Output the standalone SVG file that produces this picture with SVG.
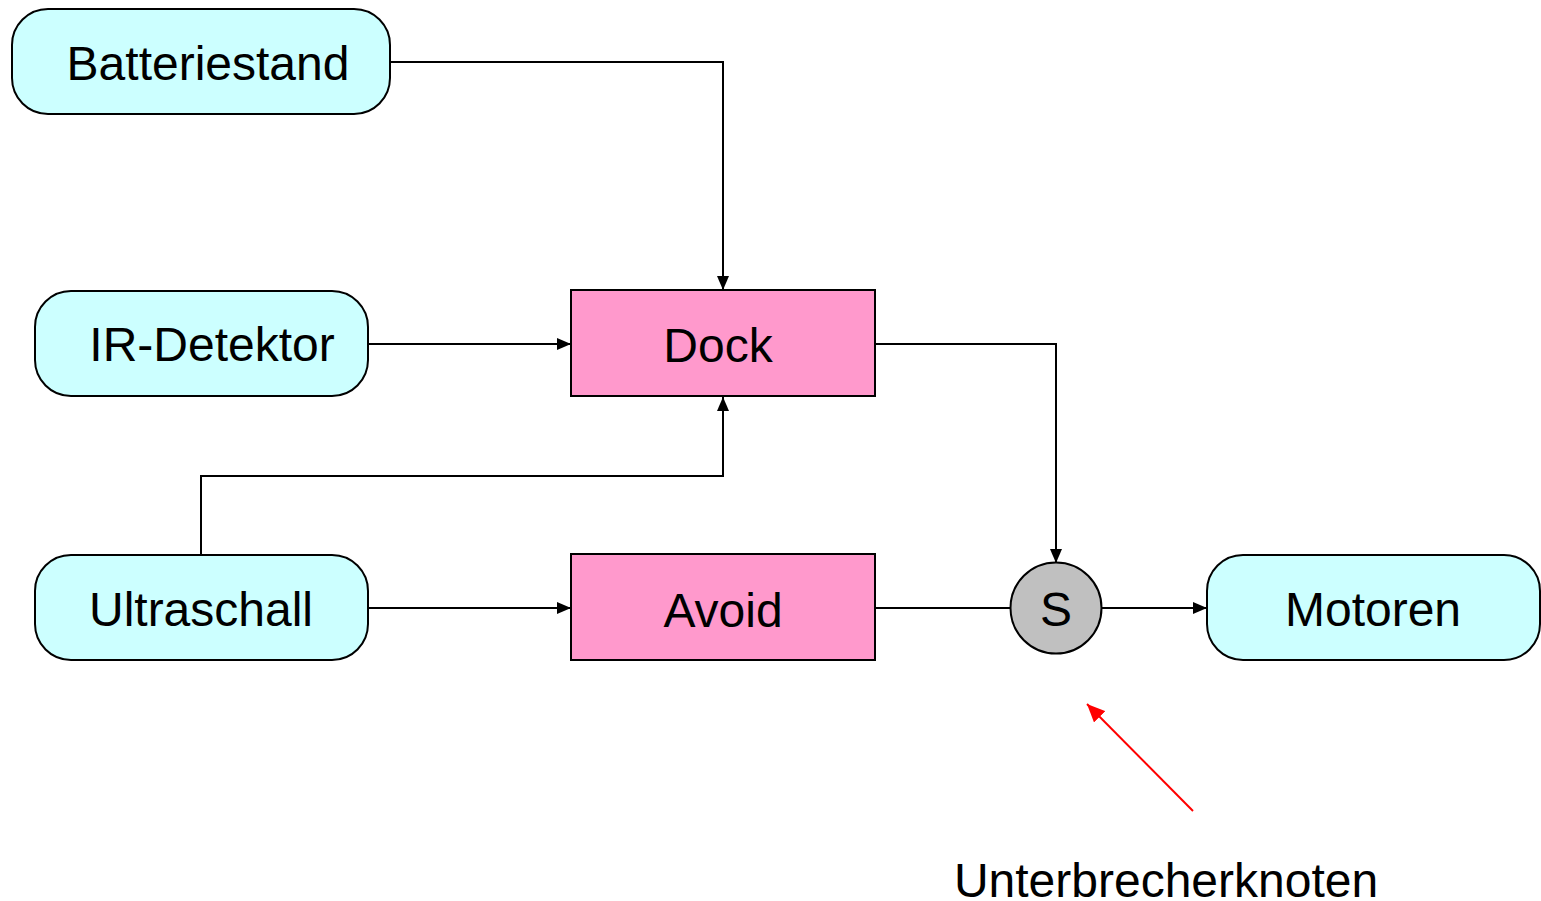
<svg xmlns="http://www.w3.org/2000/svg" width="1541" height="901" viewBox="0 0 1541 901">
<style>
.io{fill:#CCFFFF;stroke:#000;stroke-width:2}
.beh{fill:#FF99CC;stroke:#000;stroke-width:2}
.sw{fill:#C0C0C0;stroke:#000;stroke-width:2}
text{font-family:"Liberation Sans",Arial,sans-serif;font-size:48px;fill:#000}
.c{text-anchor:middle}
.ln{fill:none;stroke:#000;stroke-width:2}
.red{fill:none;stroke:#FF0000;stroke-width:2}
</style>
<defs>
<marker id="ah" markerWidth="14" markerHeight="12" refX="14" refY="6" orient="auto" markerUnits="userSpaceOnUse">
<path d="M0,0 L14,6 L0,12 Z" fill="#000"/>
</marker>
<marker id="rh" markerWidth="18" markerHeight="16" refX="18" refY="8" orient="auto" markerUnits="userSpaceOnUse">
<path d="M0,0 L18,8 L0,16 Z" fill="#FF0000"/>
</marker>
</defs>
<rect width="1541" height="901" fill="#fff"/>
<g id="connectors">
<path class="ln" d="M390,62 H723 V290" marker-end="url(#ah)"/>
<path class="ln" d="M368,344 H571" marker-end="url(#ah)"/>
<path class="ln" d="M201,555 V476 H723 V397" marker-end="url(#ah)"/>
<path class="ln" d="M368,608 H571" marker-end="url(#ah)"/>
<path class="ln" d="M875,344 H1056 V563" marker-end="url(#ah)"/>
<path class="ln" d="M875,608 H1010"/>
<path class="ln" d="M1101,608 H1207" marker-end="url(#ah)"/>
<path class="red" d="M1193,811 L1087,704" marker-end="url(#rh)"/>
</g>
<g id="batteriestand">
<rect class="io" x="12" y="9" width="378" height="105" rx="36" ry="36"/>
<text x="208" y="80" class="c">Batteriestand</text>
</g>
<g id="ir-detektor">
<rect class="io" x="35" y="291" width="333" height="105" rx="36" ry="36"/>
<text x="212" y="361" class="c">IR-Detektor</text>
</g>
<g id="ultraschall">
<rect class="io" x="35" y="555" width="333" height="105" rx="36" ry="36"/>
<text x="201" y="626" class="c">Ultraschall</text>
</g>
<g id="dock">
<rect class="beh" x="571" y="290" width="304" height="106"/>
<text x="718" y="362" class="c">Dock</text>
</g>
<g id="avoid">
<rect class="beh" x="571" y="554" width="304" height="106"/>
<text x="723" y="627" class="c">Avoid</text>
</g>
<g id="s">
<circle class="sw" cx="1056" cy="608" r="45.5"/>
<text x="1056" y="626" class="c">S</text>
</g>
<g id="motoren">
<rect class="io" x="1207" y="555" width="333" height="105" rx="36" ry="36"/>
<text x="1373" y="626" class="c">Motoren</text>
</g>
<g id="unterbrecherknoten">
<text x="1166" y="897" class="c">Unterbrecherknoten</text>
</g>
</svg>
